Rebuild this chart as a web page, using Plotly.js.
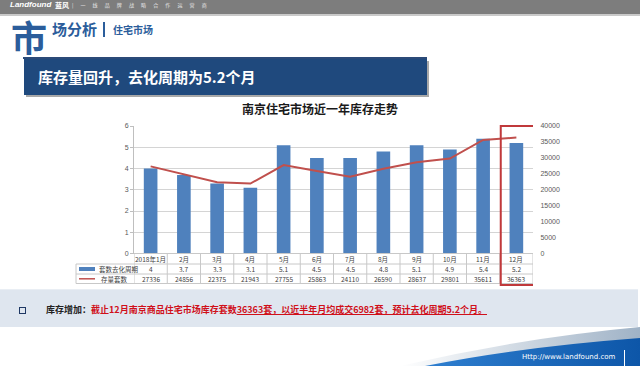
<!DOCTYPE html>
<html>
<head>
<meta charset="utf-8">
<script src="https://cdn.plot.ly/plotly-3.0.1.min.js"></script>
<style>
  html,body{margin:0;padding:0;background:#fff;}
  #slide{position:relative;width:640px;height:366px;overflow:hidden;background:#fff;font-family:"Noto Sans CJK SC","Noto Sans",sans-serif;}
  .abs{position:absolute;white-space:nowrap;}
  #chart{position:absolute;left:0;top:0;width:640px;height:366px;}
</style>
</head>
<body>
<div id="slide">
  <!-- header bar -->
  <div class="abs" style="left:0;top:0;width:640px;height:14px;background:#7d7d7d;border-bottom:2px solid #c9c9c9;"></div>
  <div class="abs" style="left:10px;top:0px;font-size:8px;line-height:10px;color:#fff;font-weight:bold;font-style:italic;font-family:'Liberation Sans',sans-serif;">Landfound</div>
  <div class="abs" style="left:55px;top:0px;font-size:7px;line-height:10px;color:#fff;font-weight:bold;">蓝风</div>
  <div class="abs" style="left:72px;top:0px;font-size:5px;line-height:10px;color:#e8e8e8;letter-spacing:3px;">|&nbsp;一 线 品 牌 战 略 合 作 运 营 商</div>
  <!-- section title -->
  <div class="abs" style="left:11px;top:18px;font-size:36px;line-height:36px;font-weight:bold;color:#2b5d9b;">市</div>
  <div class="abs" style="left:52px;top:19px;font-size:15px;line-height:20px;font-weight:bold;color:#2b5d9b;">场分析</div>
  <div class="abs" style="left:103px;top:22px;width:2px;height:15px;background:#2b5d9b;"></div>
  <div class="abs" style="left:113px;top:23px;font-size:10px;line-height:14px;font-weight:bold;color:#2b5d9b;">住宅市场</div>
  <!-- banner -->
  <div class="abs" style="left:23px;top:57px;width:404px;height:2px;background:#2b4a78;"></div>
  <div class="abs" style="left:26px;top:61px;width:403px;height:36px;background:#a8a8a8;"></div>
  <div class="abs" style="left:24px;top:59px;width:403px;height:36px;background:#1f497d;"></div>
  <div class="abs" style="left:38px;top:66px;font-size:15px;line-height:22px;font-weight:bold;color:#fff;">库存量回升，去化周期为5.2个月</div>
  <!-- bottom band -->
  <div class="abs" style="left:0;top:289px;width:638px;height:37px;background:#dfe6ef;border-top:1px solid #e9eef4;"></div>
  <div class="abs" style="left:19px;top:307px;width:5px;height:5px;border:1.5px solid #1f3864;"></div>
  <div class="abs" style="left:46px;top:302px;font-size:9px;line-height:16px;font-weight:bold;color:#222;">库存增加：<span style="color:#d0101a;">截止12月南京商品住宅市场库存套数<u>36363套，以近半年月均成交6982套，预计去化周期5.2个月。</u></span></div>
  <!-- bottom swoosh -->
  <svg class="abs" style="left:0;top:0;" width="640" height="366">
    <defs>
      <linearGradient id="gb" x1="0" y1="0" x2="1" y2="0">
        <stop offset="0" stop-color="#2f7fd0"/>
        <stop offset="1" stop-color="#0d56a8"/>
      </linearGradient>
      <linearGradient id="gg" x1="0" y1="0" x2="1" y2="0">
        <stop offset="0" stop-color="#ffffff"/>
        <stop offset="1" stop-color="#9fb2c6"/>
      </linearGradient>
    </defs>
    <path d="M400,366 Q520,338 640,327 L640,340 Q520,348 430,366 Z" fill="url(#gg)"/>
    <path d="M425,366 Q520,347 640,338 L640,366 Z" fill="url(#gb)"/>
    <line x1="624.5" y1="350" x2="624.5" y2="366" stroke="#ffffff" stroke-width="1"/>
  </svg>
  <div class="abs" style="left:522px;top:352px;font-size:7px;line-height:10px;color:#fff;font-family:'DejaVu Sans',sans-serif;">Http://www.landfound.com</div>
  <div id="chart"></div>
</div>
<script>
const months = ["2018年1月","2月","3月","4月","5月","6月","7月","8月","9月","10月","11月","12月"];
const turnoverMonths = [4, 3.7, 3.3, 3.1, 5.1, 4.5, 4.5, 4.8, 5.1, 4.9, 5.4, 5.2];
const stockUnits = [27336, 24856, 22375, 21943, 27755, 25863, 24110, 26590, 28637, 29801, 35611, 36363];
const seriesNames = ["套数去化周期", "存量套数"];
const chartTitle = "南京住宅市场近一年库存走势";

const W = 640, H = 366;
const px = v => v / W;
const py = v => 1 - v / H;
const plotL = 134, plotR = 533, plotT = 126, plotB = 253.5;
const rowLines = [253.5, 264, 274, 283.5];
const rowMid = [259, 269, 278.8];
const tableLeft = 76;
const gridCol = "#c8c8c8";
const barColor = "#4f81bd";
const lineColor = "#c0504d";

const traces = [
  {type:"bar", x: months, y: turnoverMonths, name: seriesNames[0], yaxis:"y",
   marker:{color:barColor}, width:0.41, hoverinfo:"skip"},
  {type:"scatter", mode:"lines", x: months, y: stockUnits, name: seriesNames[1], yaxis:"y2",
   line:{color:lineColor, width:2}, hoverinfo:"skip"}
];

const shapes = [];
const annotations = [];
shapes.push({type:"line", xref:"paper", yref:"paper", x0:px(plotL), x1:px(plotR), y0:py(rowLines[0]), y1:py(rowLines[0]), line:{color:gridCol, width:1}});
for (let k = 1; k < rowLines.length; k++) {
  shapes.push({type:"line", xref:"paper", yref:"paper", x0:px(tableLeft), x1:px(plotR), y0:py(rowLines[k]), y1:py(rowLines[k]), line:{color:gridCol, width:1}});
}
for (let i = 0; i <= months.length; i++) {
  shapes.push({type:"line", xref:"x", yref:"paper", x0:i-0.5, x1:i-0.5, y0:py(rowLines[0]), y1:py(rowLines[3]), line:{color:gridCol, width:1}});
}
shapes.push({type:"line", xref:"paper", yref:"paper", x0:px(tableLeft), x1:px(tableLeft), y0:py(rowLines[1]), y1:py(rowLines[3]), line:{color:gridCol, width:1}});
shapes.push({type:"rect", xref:"paper", yref:"paper", x0:px(79), x1:px(95), y0:py(rowMid[1]+2), y1:py(rowMid[1]-2), fillcolor:barColor, line:{width:0}});
shapes.push({type:"line", xref:"paper", yref:"paper", x0:px(79), x1:px(95), y0:py(rowMid[2]), y1:py(rowMid[2]), line:{color:lineColor, width:1.5}});
shapes.push({type:"rect", xref:"x", yref:"paper", x0:months.length-1.5+0.03, x1:months.length-0.5+0.06, y0:py(285), y1:py(plotT), line:{color:"#c0393b", width:2}, fillcolor:"rgba(0,0,0,0)"});

const tf = {family:"Noto Sans CJK SC, sans-serif", size:6.5, color:"#404040"};
months.forEach((m, i) => {
  annotations.push({xref:"x", yref:"paper", x:i, y:py(rowMid[0]), text:m, showarrow:false, font:tf, xanchor:"center", yanchor:"middle"});
  annotations.push({xref:"x", yref:"paper", x:i, y:py(rowMid[1]), text:String(turnoverMonths[i]), showarrow:false, font:tf, xanchor:"center", yanchor:"middle"});
  annotations.push({xref:"x", yref:"paper", x:i, y:py(rowMid[2]), text:String(stockUnits[i]), showarrow:false, font:tf, xanchor:"center", yanchor:"middle"});
});
annotations.push({xref:"paper", yref:"paper", x:px(97), y:py(rowMid[1]), text:seriesNames[0], showarrow:false, font:tf, xanchor:"left", yanchor:"middle"});
annotations.push({xref:"paper", yref:"paper", x:px(99), y:py(rowMid[2]), text:seriesNames[1], showarrow:false, font:tf, xanchor:"left", yanchor:"middle"});

const layout = {
  width: W, height: H,
  margin:{l:0, r:0, t:0, b:0},
  paper_bgcolor:"rgba(0,0,0,0)", plot_bgcolor:"rgba(0,0,0,0)",
  showlegend:false,
  title:{text:chartTitle, x:0.5, xanchor:"center", y:py(110), yanchor:"middle",
         font:{family:"Noto Sans CJK SC, sans-serif", size:12, color:"#1a1a1a", weight:"bold"}},
  xaxis:{type:"category", domain:[px(plotL), px(plotR)], range:[-0.5, months.length-0.5],
         showticklabels:false, showgrid:false, zeroline:false, showline:false, ticks:"", fixedrange:true},
  yaxis:{domain:[py(plotB), py(plotT)], range:[0,6], dtick:1, tick0:0,
         showgrid:true, gridcolor:"#d4d4d4", gridwidth:1, zeroline:false,
         showline:true, linecolor:"#bfbfbf", linewidth:1,
         ticks:"outside", ticklen:3, tickcolor:"#bfbfbf",
         tickfont:{family:"Liberation Sans, sans-serif", size:7, color:"#595959"}, fixedrange:true},
  yaxis2:{overlaying:"y", side:"right", range:[0,40000], dtick:5000, tick0:0, tickformat:"d",
          showgrid:false, zeroline:false, showline:false, ticks:"outside", ticklen:5, tickcolor:"rgba(0,0,0,0)",
          tickfont:{family:"Liberation Sans, sans-serif", size:7, color:"#595959"}, fixedrange:true},
  bargap:0.59,
  shapes: shapes,
  annotations: annotations
};

Plotly.newPlot("chart", traces, layout, {displayModeBar:false, staticPlot:true});
</script>
</body>
</html>
